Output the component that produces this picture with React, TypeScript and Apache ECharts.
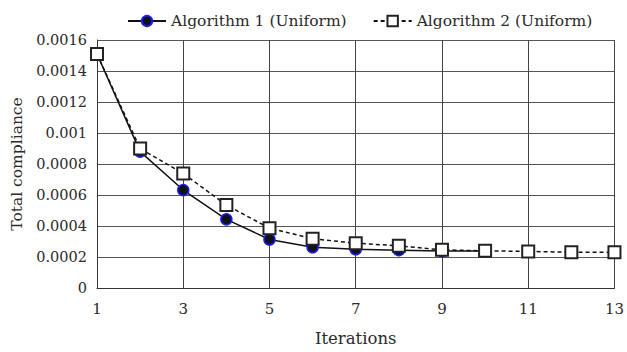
import React, { useEffect, useRef } from "react";
import * as echarts from "echarts";

const iterations = ["1", "2", "3", "4", "5", "6", "7", "8", "9", "10", "11", "12", "13"];
const algorithm1 = [0.00151, 0.00088, 0.000632, 0.000443, 0.000313, 0.000263, 0.00025, 0.000244, 0.000238, 0.000238];
const algorithm2 = [0.00151, 0.0009, 0.000739, 0.000535, 0.000386, 0.000318, 0.000289, 0.000272, 0.000246, 0.00024, 0.000236, 0.000231, 0.00023];
const seriesNames = ["Algorithm 1 (Uniform)", "Algorithm 2 (Uniform)"];

const FONT = "'DejaVu Serif', serif";
const TEXT = "#2a2a2a";

export default function App() {
  const ref = useRef<HTMLDivElement>(null);
  useEffect(() => {
    if (!ref.current) return;
    const chart = echarts.init(ref.current, null, { renderer: "svg" });
    chart.setOption({
      animation: false,
      backgroundColor: "#fff",
      textStyle: { fontFamily: FONT },
      legend: {
        top: 8,
        left: 122,
        itemGap: 26,
        itemWidth: 38,
        itemHeight: 13,
        textStyle: { fontFamily: FONT, fontSize: 15.5, color: TEXT },
        data: seriesNames,
      },
      grid: { left: 97, right: 9, top: 40, bottom: 63 },
      xAxis: {
        type: "category",
        data: iterations,
        boundaryGap: false,
        name: "Iterations",
        nameLocation: "middle",
        nameGap: 42,
        nameTextStyle: { fontFamily: FONT, fontSize: 16.5, color: TEXT },
        axisLine: { lineStyle: { color: "#333", width: 1 } },
        axisTick: { show: false },
        axisLabel: { interval: 1, margin: 13, fontFamily: FONT, fontSize: 15, color: TEXT },
        splitLine: { show: true, interval: 1, lineStyle: { color: "#444", width: 1 } },
      },
      yAxis: {
        type: "value",
        min: 0,
        max: 0.0016,
        interval: 0.0002,
        name: "Total compliance",
        nameLocation: "middle",
        nameGap: 68,
        nameTextStyle: { fontFamily: FONT, fontSize: 15.5, color: TEXT },
        axisLine: { show: true, lineStyle: { color: "#333", width: 1 } },
        axisTick: { show: false },
        axisLabel: {
          margin: 10,
          fontFamily: FONT,
          fontSize: 14.5,
          color: TEXT,
          formatter: (v: number) => String(parseFloat(v.toFixed(4))),
        },
        splitLine: { show: true, lineStyle: { color: "#555", width: 1 } },
      },
      series: [
        {
          name: seriesNames[0],
          type: "line",
          data: algorithm1,
          symbol: "circle",
          symbolSize: 11,
          lineStyle: { color: "#111", width: 1.5, type: "solid" },
          itemStyle: { color: "#111", borderColor: "#1a1aff", borderWidth: 1.5 },
          z: 2,
        },
        {
          name: seriesNames[1],
          type: "line",
          data: algorithm2,
          symbol: "rect",
          symbolSize: 12,
          lineStyle: { color: "#111", width: 1.5, type: [4, 3] },
          itemStyle: { color: "#fff", borderColor: "#222", borderWidth: 2 },
          z: 3,
        },
      ],
    });
    return () => chart.dispose();
  }, []);
  return <div ref={ref} style={{ width: 627, height: 352, position: "absolute", left: 0, top: 0 }} />;
}
